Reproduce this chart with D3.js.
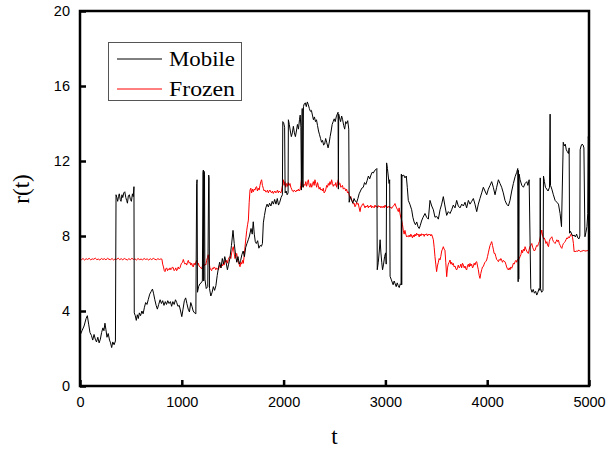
<!DOCTYPE html>
<html><head><meta charset="utf-8">
<script src="https://cdn.jsdelivr.net/npm/d3@7"></script>
<style>
html,body{margin:0;padding:0;background:#fff;}
svg{display:block;}
.tick text{font-family:"Liberation Sans",Arial,sans-serif;font-size:14.5px;fill:#000;}
</style></head>
<body>
<svg id="chart" width="606" height="452"></svg>
<script>
const xTicks = [0, 1000, 2000, 3000, 4000, 5000];
const yTicks = [0, 4, 8, 12, 16, 20];
const seriesNames = ["Mobile", "Frozen"];
const seriesColors = ["#000000", "#ff0000"];

const mobile = [
[0,2.7],[20,2.95],[40,3.2],[60,3.6],[72,3.75],[85,3.3],[98,2.85],[112,2.7],[125,2.45],[138,2.75],[150,2.5],[162,2.35],[175,2.6],[188,2.3],[200,2.5],[212,2.85],[225,3.1],[235,2.95],[245,3.35],[255,3.0],[265,2.6],[277,2.8],[290,2.45],[300,2.3],[311,2.05],[322,2.35],[335,2.2],[348,2.4],
[354,10.2],[362,10.05],[370,9.85],[378,10.1],[386,10.25],[395,9.95],[403,9.85],[412,10.2],[420,10.05],[430,10.3],[440,10.36],[450,10.05],[458,9.9],[466,9.75],[475,10.15],[485,10.2],[495,9.95],[505,9.85],[515,10.25],[523,10.1],[530,10.63],
[533,3.9],[543,3.75],[553,3.5],[563,3.8],[573,3.6],[583,3.9],[595,3.75],[608,4.0],[620,3.85],[633,4.2],[645,4.45],[658,4.35],[670,4.6],[685,4.9],[700,5.05],[712,5.17],[722,4.95],[735,4.6],[748,4.3],[760,4.1],[773,4.35],[787,4.6],[800,4.4],[812,4.55],[825,4.3],[838,4.5],[850,4.35],[862,4.55],[875,4.4],[888,4.5],[900,4.25],[912,4.5],[925,4.35],[938,4.6],[950,4.45],[962,4.25],[975,4.3],[988,4.0],[1000,3.7],[1012,4.1],[1025,4.55],[1038,4.7],[1050,4.4],[1063,4.1],[1075,3.95],[1088,4.45],[1100,4.25],[1112,4.0],[1125,3.9],[1138,3.85],
[1146,10.8],[1150,11.0],[1154,5.0],[1165,5.3],[1178,5.45],[1190,5.5],[1202,5.6],[1208,11.4],[1212,11.52],[1215,5.6],[1219,11.45],[1223,11.3],[1227,5.7],[1240,5.2],[1255,5.3],[1264,11.25],[1268,11.1],[1272,5.2],[1285,4.8],[1298,5.0],[1310,5.3],[1322,5.1],[1335,5.35],[1348,5.9],[1360,6.3],[1372,6.6],[1385,6.3],[1398,6.8],[1410,6.5],[1422,6.9],[1435,6.6],[1448,6.2],[1460,6.5],[1472,6.8],[1488,7.5],[1503,8.3],[1515,7.6],[1528,7.0],[1540,6.6],[1552,6.9],[1565,6.5],[1578,6.7],[1590,7.0],[1603,7.2],[1615,6.9],[1628,7.4],[1640,7.6],[1653,7.8],[1665,8.0],[1680,8.4],[1692,8.1],[1702,8.76],[1712,8.1],[1722,7.7],[1732,7.6],[1745,7.75],[1757,7.35],[1770,7.5],[1782,7.45],[1792,7.6],[1801,8.7],[1812,9.1],[1825,9.5],[1838,9.7],[1850,9.55],[1862,9.75],[1875,9.6],[1888,9.85],[1900,9.7],[1912,9.95],[1925,9.7],[1938,10.0],[1950,9.65],[1962,9.8],[1975,10.05],[1988,10.2],
[1992,14.1],[2000,14.05],[2010,13.8],[2015,10.3],[2025,10.4],[2035,10.2],[2044,10.3],[2047,14.2],[2056,13.95],[2066,13.6],[2076,13.3],[2086,13.5],[2096,13.85],[2106,13.5],[2116,13.3],[2126,13.6],[2136,13.95],[2146,13.7],[2156,14.2],[2163,14.45],[2170,13.8],[2175,10.45],[2179,13.9],[2183,14.8],[2187,11.0],[2191,10.6],[2195,14.9],[2203,15.05],[2213,15.1],[2223,14.9],[2233,15.15],[2243,15.0],[2253,14.8],[2263,14.65],[2273,14.7],[2283,14.45],[2293,14.2],[2303,14.35],[2313,14.1],[2323,14.2],[2333,13.9],[2343,13.6],[2353,13.4],[2363,13.2],[2373,13.0],[2383,13.1],[2393,12.85],[2403,12.9],[2413,13.2],[2423,13.0],[2437,12.7],[2447,12.95],[2457,13.3],[2467,13.6],[2477,13.95],[2487,14.1],[2497,14.25],[2507,14.1],[2517,14.35],[2527,14.5],[2535,14.6],[2538,10.5],[2541,14.5],[2550,14.3],[2560,14.1],[2570,14.4],[2580,14.2],[2590,13.9],[2600,13.7],[2610,14.1],[2620,14.0],[2630,14.15],[2640,13.7],
[2644,9.8],[2655,10.1],[2668,9.9],[2680,9.75],[2692,10.0],[2705,9.85],[2718,9.8],[2730,10.0],[2742,10.25],[2755,10.4],[2768,10.55],[2783,10.6],[2795,10.85],[2808,10.75],[2820,10.95],[2833,11.2],[2846,11.05],[2858,11.25],[2870,11.4],[2882,11.36],[2895,11.5],[2908,11.55],[2916,11.6],
[2920,6.2],[2930,6.6],[2940,7.2],[2948,7.8],[2956,7.1],[2964,6.6],[2972,6.2],[2982,6.5],[2992,6.9],[3002,7.1],[3008,6.5],
[3012,11.9],[3020,11.6],[3028,11.2],[3036,10.8],[3042,11.0],
[3046,5.85],[3056,5.7],[3066,5.55],[3076,5.4],[3086,5.6],[3096,5.45],[3106,5.3],[3116,5.5],[3126,5.35],[3136,5.25],[3146,5.45],[3154,5.4],
[3157,11.3],[3160,5.4],[3163,11.25],[3170,11.2],[3180,11.25],[3192,11.1],[3205,11.2],[3215,10.6],[3225,9.9],[3240,9.7],[3258,9.4],[3270,9.0],[3282,8.75],[3295,8.6],[3308,8.75],[3320,8.5],[3332,8.4],[3342,8.55],[3355,8.8],[3370,9.0],[3389,9.2],[3405,9.0],[3422,8.9],[3438,9.9],[3455,9.6],[3471,9.4],[3487,9.0],[3503,9.05],[3520,8.9],[3537,9.4],[3553,9.7],[3569,10.1],[3585,9.6],[3602,9.1],[3618,9.3],[3635,9.2],[3651,9.4],[3667,9.65],[3684,9.5],[3700,9.9],[3716,9.6],[3733,9.5],[3750,9.7],[3766,9.6],[3782,9.8],[3798,9.5],[3815,9.9],[3831,9.7],[3848,9.85],[3864,10.0],[3880,9.7],[3897,9.3],[3913,9.7],[3929,10.0],[3946,10.3],[3962,10.6],[3978,10.4],[3995,10.2],[4011,10.5],[4028,10.7],[4044,10.9],[4060,10.6],[4077,10.2],[4093,10.6],[4110,11.0],[4126,10.8],[4142,10.6],[4158,10.3],[4175,9.9],[4191,9.7],[4208,9.6],[4224,9.9],[4241,10.4],[4257,10.8],[4274,11.16],[4290,11.4],[4300,11.6],
[4304,5.56],[4307,11.5],[4310,5.7],[4314,11.3],[4323,11.0],[4340,10.7],[4356,10.6],[4372,10.8],[4389,10.9],[4400,10.7],[4412,11.0],
[4428,5.2],[4440,5.0],[4452,5.15],[4464,4.95],[4476,5.05],[4487,4.85],[4498,5.0],[4510,5.2],[4518,5.1],[4521,11.1],[4524,5.2],[4535,5.0],[4548,5.1],
[4553,11.2],[4562,10.9],[4572,10.6],[4585,10.5],[4598,10.4],[4612,10.6],[4618,14.5],[4622,10.7],[4635,10.5],[4650,10.2],[4667,9.9],[4684,9.8],[4700,9.7],[4716,9.2],[4730,8.5],
[4747,13.0],[4757,12.8],[4767,12.9],[4777,12.6],[4787,12.5],[4798,12.4],[4805,12.7],
[4809,8.15],[4818,8.25],[4830,8.1],[4842,8.0],[4854,8.05],[4866,7.95],[4878,8.1],[4890,7.9],[4902,7.85],[4910,8.0],
[4913,12.6],[4922,12.8],[4932,12.9],[4942,12.85],[4950,12.7],
[4960,7.96],[4970,8.2],[4980,8.5],[4988,9.2],
[4993,13.3],[5000,13.0]
];

const frozen = [
[0,6.78],[15,6.74],[30,6.8],[45,6.72],[60,6.79],[75,6.75],[90,6.81],[105,6.73],[120,6.78],[135,6.76],[150,6.82],[165,6.74],[180,6.77],[195,6.72],[210,6.8],[225,6.75],[240,6.79],[255,6.73],[270,6.81],[285,6.76],[300,6.74],[315,6.8],[330,6.72],[345,6.78],[360,6.75],[375,6.82],[390,6.74],[405,6.79],[420,6.73],[435,6.8],[450,6.76],[465,6.72],[480,6.79],[495,6.74],[510,6.81],[525,6.75],[540,6.78],[555,6.72],[570,6.8],[585,6.74],[600,6.77],[615,6.73],[630,6.8],[645,6.75],[660,6.78],[675,6.72],[690,6.79],[705,6.74],[720,6.81],[735,6.76],[750,6.73],[765,6.79],[780,6.75],[795,6.78],[805,6.76],
[812,6.5],[820,6.35],[828,6.15],[835,6.1],[843,6.25],[851,6.3],[860,6.15],[868,6.25],[876,6.2],[884,6.3],[892,6.2],[900,6.25],[908,6.35],[916,6.3],[925,6.15],[933,6.2],[941,6.3],[949,6.15],[957,6.2],[965,6.35],[973,6.25],[982,6.3],[990,6.45],[998,6.55],[1007,6.6],[1015,6.75],[1023,6.6],[1031,6.5],[1040,6.55],[1048,6.45],[1056,6.6],[1064,6.7],[1072,6.55],[1080,6.6],[1089,6.45],[1097,6.55],[1105,6.4],[1113,6.35],[1121,6.55],[1130,6.45],[1138,6.6],[1146,6.7],[1154,6.5],[1162,6.55],[1170,6.4],[1179,6.35],[1187,6.3],[1195,6.25],[1203,6.4],[1211,6.5],[1220,6.4],[1228,6.5],[1236,6.45],[1244,6.7],[1252,6.85],[1260,7.0],[1268,6.6],[1276,6.3],[1285,6.2],[1293,6.15],[1301,6.3],[1309,6.25],[1318,6.35],[1326,6.3],[1334,6.2],[1342,6.3],[1350,6.25],[1359,6.2],[1367,6.35],[1375,6.45],[1383,6.3],[1392,6.5],[1400,6.4],[1408,6.55],[1416,6.45],[1424,6.7],[1432,6.6],[1441,6.7],[1449,6.55],[1457,6.75],[1465,6.85],[1473,6.9],[1482,6.8],[1490,7.1],[1498,7.3],[1506,7.43],[1514,7.1],[1522,6.8],[1530,6.9],[1539,7.07],[1547,6.8],[1555,6.6],[1563,6.5],[1572,6.36],[1580,6.6],[1588,6.5],[1596,6.7],[1604,6.54],[1612,6.9],[1621,7.43],[1630,7.9],[1638,8.3],[1646,8.6],[1654,8.85],[1662,9.8],[1670,10.45],[1678,10.55],[1686,10.3],[1695,10.5],[1703,10.36],[1711,10.5],[1719,10.45],[1727,10.6],[1735,10.63],[1743,10.4],[1751,10.55],[1760,10.45],[1768,10.7],[1776,10.9],[1784,11.0],[1792,10.7],[1801,10.54],[1809,10.4],[1817,10.45],[1825,10.35],[1834,10.36],[1842,10.45],[1850,10.3],[1858,10.4],[1866,10.45],[1874,10.35],[1883,10.3],[1891,10.4],[1899,10.27],[1907,10.35],[1915,10.4],[1924,10.3],[1932,10.36],[1940,10.45],[1948,10.3],[1956,10.4],[1965,10.35],[1973,10.3],[1981,10.45],[1989,10.7],[1997,11.0],[2005,10.7],[2013,10.9],[2021,10.6],[2030,10.8],[2038,10.65],[2046,10.85],[2054,10.7],[2063,10.8],[2071,10.6],[2079,10.5],[2087,10.4],[2096,10.36],[2104,10.45],[2112,10.4],[2120,10.35],[2128,10.45],[2136,10.4],[2145,10.5],[2153,10.4],[2161,10.45],[2169,10.7],[2177,11.08],[2185,10.8],[2193,10.6],[2202,10.75],[2210,10.7],[2218,10.9],[2226,10.65],[2235,10.85],[2243,11.0],[2251,10.7],[2259,10.6],[2267,10.8],[2276,10.6],[2284,10.75],[2292,10.9],[2300,10.7],[2308,11.0],[2316,10.8],[2325,10.6],[2333,10.85],[2341,10.7],[2349,10.5],[2357,10.6],[2366,10.45],[2374,10.5],[2382,10.4],[2390,10.55],[2398,10.3],[2407,10.36],[2415,10.5],[2423,10.7],[2431,10.6],[2439,10.8],[2447,10.7],[2456,10.9],[2464,10.75],[2472,11.0],[2480,10.8],[2488,10.65],[2497,10.75],[2505,10.7],[2513,10.85],[2521,10.6],[2529,10.8],[2537,11.0],[2546,10.75],[2554,10.8],[2562,10.6],[2570,10.63],[2578,10.7],[2587,10.5],[2595,10.55],[2603,10.54],[2611,10.4],[2619,10.5],[2628,10.3],[2636,10.36],[2644,10.2],[2652,10.05],[2660,10.1],[2669,9.92],[2677,9.85],[2685,9.7],[2693,9.75],[2701,9.56],[2710,9.65],[2718,9.8],[2726,9.7],[2734,9.73],[2742,9.5],[2751,9.3],[2759,9.55],[2767,9.6],[2775,9.7],[2783,9.73],[2792,9.6],[2800,9.5],[2808,9.6],[2816,9.55],[2825,9.65],[2833,9.5],[2841,9.6],[2849,9.55],[2857,9.65],[2865,9.5],[2874,9.6],[2882,9.55],[2890,9.5],[2898,9.65],[2906,9.55],[2915,9.6],[2923,9.5],[2931,9.62],[2939,9.55],[2947,9.6],[2956,9.5],[2964,9.58],[2972,9.52],[2980,9.6],[2988,9.5],[2997,9.65],[3005,9.55],[3013,9.6],[3021,9.5],[3029,9.55],[3037,9.6],[3045,9.5],[3053,9.55],[3061,9.47],[3070,9.55],[3078,9.6],[3086,9.65],[3094,9.73],[3102,9.6],[3110,9.5],[3119,9.4],[3127,9.3],[3135,9.5],[3143,9.2],[3151,9.0],[3159,8.85],[3168,8.6],[3176,8.3],[3184,8.1],[3192,8.3],[3200,8.1],[3209,7.95],[3217,8.0],[3225,7.96],[3233,8.05],[3241,7.95],[3250,8.1],[3258,8.0],[3266,7.9],[3274,8.05],[3282,7.95],[3291,8.1],[3299,8.0],[3307,8.15],[3315,8.05],[3323,8.1],[3332,7.95],[3340,8.1],[3348,8.0],[3356,8.12],[3364,8.05],[3373,8.1],[3381,7.98],[3389,8.1],[3397,8.05],[3405,8.12],[3414,8.0],[3422,8.1],[3430,8.05],[3438,8.1],[3446,8.0],[3454,8.08],[3463,7.95],[3471,7.8],[3479,7.4],[3487,6.9],[3495,6.5],[3503,6.1],[3511,6.4],[3520,6.6],[3528,6.8],[3536,6.72],[3544,6.9],[3553,7.2],[3561,7.3],[3569,7.43],[3577,7.3],[3585,7.25],[3593,6.6],[3602,5.83],[3610,6.3],[3618,6.5],[3626,6.6],[3635,6.72],[3643,6.5],[3651,6.6],[3659,6.45],[3667,6.54],[3675,6.35],[3684,6.4],[3692,6.25],[3700,6.19],[3708,6.3],[3716,6.45],[3725,6.3],[3733,6.37],[3741,6.5],[3749,6.3],[3757,6.55],[3766,6.45],[3774,6.3],[3782,6.4],[3790,6.25],[3798,6.19],[3806,6.4],[3815,6.5],[3823,6.35],[3831,6.54],[3839,6.4],[3847,6.5],[3856,6.3],[3864,6.37],[3872,6.55],[3880,6.45],[3888,6.6],[3897,6.63],[3905,6.4],[3913,6.2],[3921,5.9],[3929,5.74],[3937,6.0],[3946,6.2],[3954,6.35],[3962,6.37],[3970,6.5],[3978,6.6],[3987,6.65],[3995,6.72],[4003,6.9],[4011,7.1],[4019,7.3],[4028,7.5],[4036,7.6],[4044,7.7],[4052,7.5],[4060,7.3],[4068,7.07],[4077,7.07],[4085,6.9],[4093,6.75],[4101,6.7],[4110,6.63],[4118,6.75],[4126,6.7],[4134,6.8],[4142,6.72],[4150,6.6],[4159,6.7],[4167,6.65],[4175,6.63],[4183,6.5],[4191,6.35],[4199,6.25],[4208,6.19],[4216,6.3],[4224,6.2],[4232,6.35],[4241,6.28],[4249,6.4],[4257,6.55],[4265,6.5],[4274,6.63],[4282,6.7],[4290,6.6],[4298,6.75],[4307,6.72],[4315,6.8],[4323,6.9],[4331,7.0],[4339,7.25],[4347,7.1],[4356,7.3],[4364,7.2],[4372,7.43],[4380,7.3],[4388,7.2],[4397,7.1],[4405,7.07],[4413,7.3],[4421,7.45],[4429,7.5],[4438,7.6],[4446,7.4],[4454,7.3],[4462,7.2],[4471,7.25],[4479,7.4],[4487,7.5],[4495,7.45],[4504,7.6],[4512,7.7],[4520,7.9],[4528,8.1],[4536,8.32],[4545,8.0],[4553,7.85],[4561,7.9],[4569,7.78],[4577,7.6],[4586,7.7],[4594,7.5],[4602,7.43],[4610,7.7],[4618,7.85],[4627,7.9],[4635,7.96],[4643,7.8],[4651,7.7],[4659,7.65],[4667,7.6],[4676,7.7],[4684,7.8],[4692,7.7],[4700,7.78],[4708,7.6],[4717,7.5],[4725,7.4],[4733,7.34],[4741,7.5],[4749,7.6],[4758,7.65],[4765,7.7],[4774,7.8],[4782,7.9],[4790,7.85],[4798,7.96],[4806,7.9],[4815,8.0],[4823,8.1],[4831,8.05],[4839,7.9],[4847,7.6],[4854,7.16],[4862,7.2],[4870,7.15],[4880,7.22],[4890,7.18],[4900,7.25],[4910,7.2],[4920,7.15],[4930,7.22],[4940,7.2],[4950,7.25],[4960,7.18],[4970,7.22],[4980,7.2],[4990,7.24],[5000,7.2]
];

const svg = d3.select("#chart");
const L = 80, R = 589, T = 11, B = 386;
const x = d3.scaleLinear().domain([0, 5000]).range([L, R]);
const y = d3.scaleLinear().domain([0, 20]).range([B, T]);

svg.append("defs").append("clipPath").attr("id","clip")
  .append("rect").attr("x",L).attr("y",T).attr("width",R-L).attr("height",B-T);

const line = d3.line().x(d => x(d[0])).y(d => y(d[1]));
const plot = svg.append("g").attr("clip-path","url(#clip)");
plot.append("path").datum(frozen).attr("d", line)
  .attr("fill","none").attr("stroke",seriesColors[1]).attr("stroke-width",1);
plot.append("path").datum(mobile).attr("d", line)
  .attr("fill","none").attr("stroke",seriesColors[0]).attr("stroke-width",1);

// axes
const xAxis = d3.axisBottom(x).tickValues(xTicks).tickSizeInner(-6).tickSizeOuter(0).tickPadding(11).tickFormat(d3.format("d"));
const gx = svg.append("g").attr("transform",`translate(0,${B})`).call(xAxis);
gx.select(".domain").remove();
gx.selectAll(".tick line").attr("stroke","#000").attr("stroke-width",2.5);

const yAxis = d3.axisLeft(y).tickValues(yTicks).tickSizeInner(-6).tickSizeOuter(0).tickPadding(10).tickFormat(d3.format("d"));
const gy = svg.append("g").attr("transform",`translate(${L},0)`).call(yAxis);
gy.select(".domain").remove();
gy.selectAll(".tick line").attr("stroke","#000").attr("stroke-width",2.5);

// frame
svg.append("rect").attr("x",L).attr("y",T).attr("width",R-L).attr("height",B-T)
  .attr("fill","none").attr("stroke","#000").attr("stroke-width",2.5);

// axis titles
svg.append("text").attr("x",(L+R)/2).attr("y",444).attr("text-anchor","middle")
  .attr("font-family","'Liberation Serif','Times New Roman',serif").attr("font-size",23).text("t");
svg.append("text").attr("transform","translate(29,189) rotate(-90)").attr("text-anchor","middle")
  .attr("font-family","'Liberation Serif','Times New Roman',serif").attr("font-size",23).text("r(t)");

// legend
const lg = svg.append("g");
lg.append("rect").attr("x",108.5).attr("y",42.5).attr("width",133).attr("height",58)
  .attr("fill","#fff").attr("stroke","#555").attr("stroke-width",1);
seriesNames.forEach((name, i) => {
  const yy = 59 + i * 30;
  lg.append("line").attr("x1",117).attr("x2",162).attr("y1",yy).attr("y2",yy)
    .attr("stroke",seriesColors[i]).attr("stroke-width",1);
  lg.append("text").attr("x",169).attr("y",yy+7)
    .attr("font-family","'Liberation Serif','Times New Roman',serif").attr("font-size",21)
    .attr("textLength",66).attr("lengthAdjust","spacingAndGlyphs").text(name);
});
</script>
</body></html>
